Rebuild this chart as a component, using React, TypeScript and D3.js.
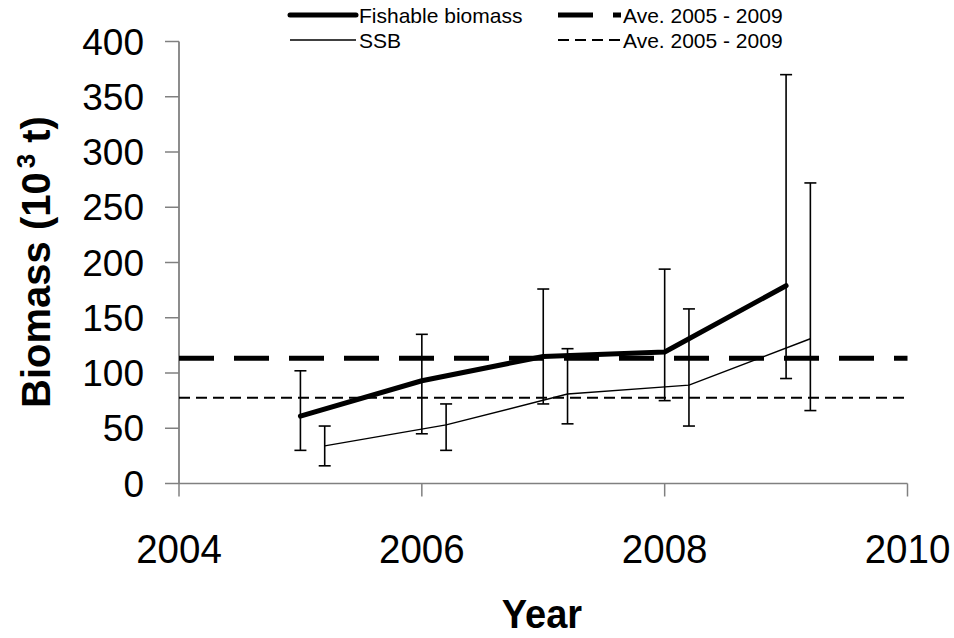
import React from "react";
import * as d3 from "d3";

// Survey years and biomass estimates (10^3 t) with confidence bounds
const years = [2005, 2006, 2007, 2008, 2009];
const fishable = [61, 93, 115, 119, 179];
const fishableLow = [30, 45, 72, 75, 95];
const fishableHigh = [102, 135, 176, 194, 370];
const ssb = [34, 53, 81, 89, 131];
const ssbLow = [16, 30, 54, 52, 66];
const ssbHigh = [52, 72, 122, 158, 272];

// SSB points are drawn slightly right of the year so the error bars don't overlap
const ssbOffset = 0.2;

const yTicks = [0, 50, 100, 150, 200, 250, 300, 350, 400];
const xTicks = [2004, 2006, 2008, 2010];

const legendLabels = ["Fishable biomass", "SSB", "Ave. 2005 - 2009", "Ave. 2005 - 2009"];

const W = 954;
const H = 638;
const FONT = "'Liberation Sans', Arial, Helvetica, sans-serif";

export default function App() {
  const x = d3.scaleLinear().domain([2004, 2010]).range([179, 907.5]);
  const y = d3.scaleLinear().domain([0, 400]).range([483.5, 41.5]);

  const fishPts = years.map((yr, i) => ({ x: yr, v: fishable[i], lo: fishableLow[i], hi: fishableHigh[i] }));
  const ssbPts = years.map((yr, i) => ({ x: yr + ssbOffset, v: ssb[i], lo: ssbLow[i], hi: ssbHigh[i] }));

  const line = d3
    .line<{ x: number; v: number }>()
    .x((d) => x(d.x))
    .y((d) => y(d.v));

  const aveFish = d3.mean(fishable) as number;
  const aveSsb = d3.mean(ssb) as number;

  const capHalf = 6;
  const errorBars = (pts: typeof fishPts, key: string) =>
    pts.map((d, i) => {
      const cx = x(d.x);
      return (
        <g key={key + i} stroke="#000" strokeWidth={1.6}>
          <line x1={cx} x2={cx} y1={y(d.hi)} y2={y(d.lo)} />
          <line x1={cx - capHalf} x2={cx + capHalf} y1={y(d.hi)} y2={y(d.hi)} />
          <line x1={cx - capHalf} x2={cx + capHalf} y1={y(d.lo)} y2={y(d.lo)} />
        </g>
      );
    });

  const [x0, x1] = x.range();

  return (
    <svg
      width={W}
      height={H}
      style={{ position: "absolute", left: 0, top: 0, background: "#fff" }}
      fontFamily={FONT}
    >
      <rect width={W} height={H} fill="#fff" />

      {/* axes */}
      <line x1={x0} x2={x0} y1={y(400)} y2={y(0)} stroke="#404040" strokeWidth={1.2} />
      <line x1={x0} x2={x1} y1={y(0)} y2={y(0)} stroke="#808080" strokeWidth={1.5} />
      {yTicks.map((t) => (
        <g key={"yt" + t}>
          <line x1={x0 - 14} x2={x0} y1={y(t)} y2={y(t)} stroke="#808080" strokeWidth={1.5} />
          <text x={144} y={y(t) + 13} fontSize={37} textAnchor="end" fill="#000">
            {t}
          </text>
        </g>
      ))}
      {xTicks.map((t) => (
        <g key={"xt" + t}>
          <line x1={x(t)} x2={x(t)} y1={y(0)} y2={y(0) + 13} stroke="#808080" strokeWidth={1.5} />
          <text
            transform={`translate(${x(t)},563) scale(1,1.07)`}
            fontSize={38.5}
            textAnchor="middle"
            fill="#000"
          >
            {t}
          </text>
        </g>
      ))}

      {/* axis titles */}
      <text
        transform={`translate(542,628) scale(1,1.05)`}
        fontSize={38}
        fontWeight="bold"
        textAnchor="middle"
      >
        Year
      </text>
      <text
        transform={`translate(50,262) rotate(-90)`}
        fontSize={40}
        fontWeight="bold"
        textAnchor="middle"
      >
        Biomass (10
        <tspan fontSize={26} dx={4} dy={-15}>3</tspan>
        <tspan dy={15}> t)</tspan>
      </text>

      {/* average reference lines */}
      <line x1={x0} x2={x1} y1={y(aveFish)} y2={y(aveFish)} stroke="#000" strokeWidth={5} strokeDasharray="35,20" />
      <line x1={x0} x2={x1} y1={y(aveSsb)} y2={y(aveSsb)} stroke="#000" strokeWidth={2} strokeDasharray="11,6" />

      {/* series */}
      <path d={line(fishPts) as string} fill="none" stroke="#000" strokeWidth={5} strokeLinejoin="round" strokeLinecap="round" />
      <path d={line(ssbPts) as string} fill="none" stroke="#000" strokeWidth={1.4} strokeLinejoin="round" />

      {errorBars(fishPts, "f")}
      {errorBars(ssbPts, "s")}

      {/* legend */}
      <g fontSize={21} fill="#000">
        <line x1={290} x2={356} y1={15} y2={15} stroke="#000" strokeWidth={5} strokeLinecap="round" />
        <text x={359} y={23}>{legendLabels[0]}</text>
        <line x1={290} x2={356} y1={40} y2={40} stroke="#000" strokeWidth={1.4} />
        <text x={359} y={48}>{legendLabels[1]}</text>
        <line x1={558} x2={621} y1={15} y2={15} stroke="#000" strokeWidth={5} strokeDasharray="35,20" />
        <text x={623} y={23}>{legendLabels[2]}</text>
        <line x1={558} x2={621} y1={40} y2={40} stroke="#000" strokeWidth={2} strokeDasharray="11,6" />
        <text x={623} y={48}>{legendLabels[3]}</text>
      </g>
    </svg>
  );
}
